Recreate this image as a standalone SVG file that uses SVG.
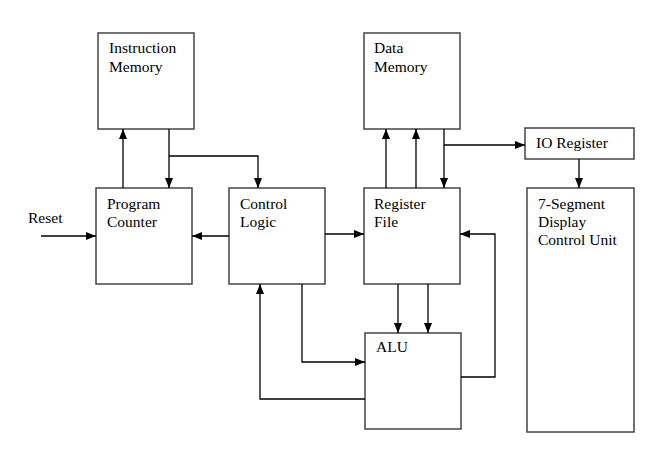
<svg xmlns="http://www.w3.org/2000/svg" width="668" height="465" viewBox="0 0 668 465">
<style>
.box{fill:#fff;stroke:#444;stroke-width:1.5}
.lbl{font-family:"Liberation Serif","Times New Roman",serif;font-size:15.5px;fill:#000}
.con path{fill:none;stroke:#000;stroke-width:1.3}
</style>
<defs>
<marker id="ah" markerUnits="userSpaceOnUse" markerWidth="10" markerHeight="10" viewBox="0 0 10 10" refX="10" refY="5" orient="auto">
<path d="M0,1 L10,5 L0,9 Z" fill="#000"/>
</marker>
</defs>
<rect width="668" height="465" fill="#fff"/>
<g id="instruction-memory">
<rect class="box" x="98" y="33" width="96" height="96"/>
<text class="lbl" x="109" y="53">Instruction</text>
<text class="lbl" x="109" y="72">Memory</text>
</g>
<g id="data-memory">
<rect class="box" x="364" y="33" width="96" height="96"/>
<text class="lbl" x="374" y="53">Data</text>
<text class="lbl" x="374" y="72">Memory</text>
</g>
<g id="io-register">
<rect class="box" x="525" y="128" width="109" height="31"/>
<text class="lbl" x="536" y="148">IO Register</text>
</g>
<g id="program-counter">
<rect class="box" x="96" y="188" width="96" height="96"/>
<text class="lbl" x="107" y="209">Program</text>
<text class="lbl" x="107" y="227">Counter</text>
</g>
<g id="control-logic">
<rect class="box" x="229" y="188" width="96" height="96"/>
<text class="lbl" x="240" y="209">Control</text>
<text class="lbl" x="240" y="227">Logic</text>
</g>
<g id="register-file">
<rect class="box" x="364" y="188" width="96" height="96"/>
<text class="lbl" x="374" y="209">Register</text>
<text class="lbl" x="374" y="227">File</text>
</g>
<g id="seven-segment">
<rect class="box" x="527" y="188" width="107" height="244"/>
<text class="lbl" x="538" y="209">7-Segment</text>
<text class="lbl" x="538" y="227">Display</text>
<text class="lbl" x="538" y="245">Control Unit</text>
</g>
<g id="alu">
<rect class="box" x="365" y="333" width="96" height="96"/>
<text class="lbl" x="376" y="352">ALU</text>
</g>
<g id="reset">
<text class="lbl" x="28" y="223">Reset</text>
</g>
<g class="con" id="connectors">
<path d="M41,236 H96" marker-end="url(#ah)"/>
<path d="M123,188 V129" marker-end="url(#ah)"/>
<path d="M169,129 V188" marker-end="url(#ah)"/>
<path d="M169,156 H258 V188" marker-end="url(#ah)"/>
<path d="M229,236 H192" marker-end="url(#ah)"/>
<path d="M325,234 H364" marker-end="url(#ah)"/>
<path d="M386,188 V129" marker-end="url(#ah)"/>
<path d="M416,188 V129" marker-end="url(#ah)"/>
<path d="M444,129 V188" marker-end="url(#ah)"/>
<path d="M444,145 H525" marker-end="url(#ah)"/>
<path d="M579,159 V188" marker-end="url(#ah)"/>
<path d="M398,284 V333" marker-end="url(#ah)"/>
<path d="M428,284 V333" marker-end="url(#ah)"/>
<path d="M302,284 V362 H365" marker-end="url(#ah)"/>
<path d="M365,399 H260 V284" marker-end="url(#ah)"/>
<path d="M461,377 H495 V234 H460" marker-end="url(#ah)"/>
</g>
</svg>
